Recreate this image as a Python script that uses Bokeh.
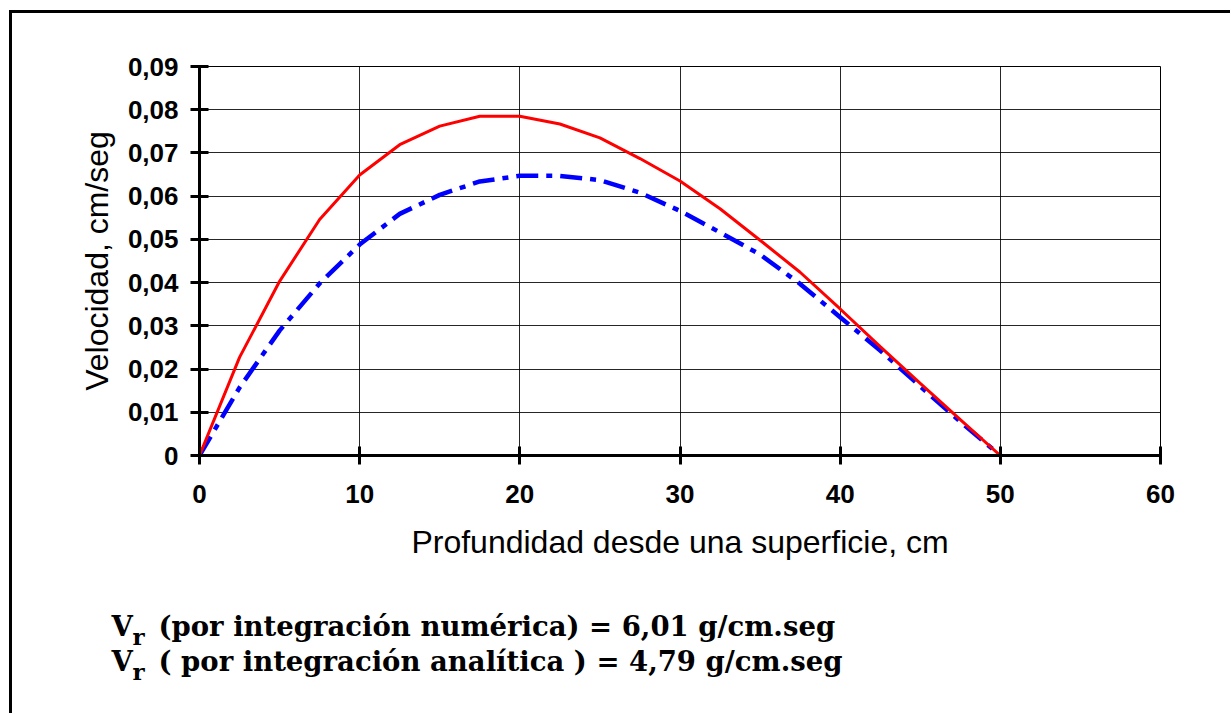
from bokeh.plotting import figure
from bokeh.layouts import column
from bokeh.models import Range1d, FixedTicker
from bokeh.core.properties import value
from bokeh.embed import file_html
from bokeh.resources import INLINE

# ---- data ----
depth = [0, 2.5, 5, 7.5, 10, 12.5, 15, 17.5, 20, 22.5, 25, 27.5, 30, 32.5,
         35, 37.5, 40, 42.5, 45, 47.5, 50]
vel_numerica = [0, 0.0227, 0.0403, 0.0546, 0.0649, 0.0719, 0.0762, 0.0785,
                0.0785, 0.0767, 0.0735, 0.0687, 0.0635, 0.0571, 0.0498,
                0.0424, 0.0339, 0.0252, 0.0167, 0.0083, 0]
vel_analitica = [0, 0.0157, 0.0289, 0.0398, 0.0488, 0.0559, 0.0603, 0.0634,
                 0.0647, 0.0647, 0.0637, 0.0608, 0.0566, 0.0516, 0.0465,
                 0.0397, 0.0320, 0.0243, 0.0160, 0.0078, 0]

x_ticks = [0, 10, 20, 30, 40, 50, 60]
x_tick_labels = ["0", "10", "20", "30", "40", "50", "60"]
y_ticks = [0, 0.01, 0.02, 0.03, 0.04, 0.05, 0.06, 0.07, 0.08, 0.09]
y_tick_labels = ["0", "0,01", "0,02", "0,03", "0,04", "0,05", "0,06",
                 "0,07", "0,08", "0,09"]

x_title = "Profundidad desde una superficie, cm"
y_title = "Velocidad, cm/seg"
note_main = ["V", "V"]
note_sub = ["r", "r"]
note_rest = ["(por integración numérica) = 6,01 g/cm.seg",
             "( por integración analítica ) = 4,79 g/cm.seg"]

SANS = "Liberation Sans"
SERIF = "DejaVu Serif"

W, H, H2 = 1218, 580, 120
p = figure(width=W, height=H, output_backend="svg", toolbar_location=None,
           x_range=Range1d(0, 60), y_range=Range1d(0, 0.09),
           min_border_left=187, min_border_right=70,
           min_border_top=53, min_border_bottom=H - 53 - 389)
p.frame_align = False

p.background_fill_color = "white"
p.border_fill_color = "white"
p.outline_line_color = "black"
p.outline_line_width = 1

for ax, ticks, labels in ((p.xaxis[0], x_ticks, x_tick_labels),
                          (p.yaxis[0], y_ticks, y_tick_labels)):
    ax.ticker = FixedTicker(ticks=ticks)
    ax.major_label_overrides = {t: l for t, l in zip(ticks, labels)}
    ax.minor_tick_line_color = None
    ax.major_tick_in = 9
    ax.major_tick_out = 9
    ax.major_tick_line_width = 3
    ax.major_tick_line_color = "black"
    ax.axis_line_width = 3
    ax.axis_line_color = "black"
    ax.major_label_text_font = SANS
    ax.major_label_text_font_style = "bold"
    ax.major_label_text_font_size = "26px"
    ax.major_label_text_color = "black"
    ax.axis_label_text_font = SANS
    ax.axis_label_text_font_style = "normal"
    ax.axis_label_text_font_size = "32px"
    ax.axis_label_text_color = "black"

p.xaxis.axis_label = x_title
p.yaxis.axis_label = y_title
p.xaxis.major_label_standoff = 20
p.xaxis.axis_label_standoff = 18
p.yaxis.major_label_standoff = 12
p.yaxis.axis_label_standoff = 10

p.xgrid.ticker = FixedTicker(ticks=x_ticks)
p.ygrid.ticker = FixedTicker(ticks=y_ticks)
for g in (p.xgrid[0], p.ygrid[0]):
    g.grid_line_color = "black"
    g.grid_line_width = 1
    g.grid_line_alpha = 0.85

p.line(depth, vel_analitica, line_color="#0000FF", line_width=4.5,
       line_dash="22 8 6 8")
p.line(depth, vel_numerica, line_color="#FF0000", line_width=3)

# ---- notes panel below the chart (pixel coordinates, y from top) ----
q = figure(width=W, height=H2, output_backend="svg", toolbar_location=None,
           x_range=Range1d(0, W), y_range=Range1d(H2, 0),
           min_border=0, x_axis_type=None, y_axis_type=None)
q.frame_align = False
q.grid.visible = False
q.outline_line_color = None
q.background_fill_color = "white"
q.border_fill_color = "white"

line_base = [32, 67]
q.text(x=[99, 99], y=line_base, text=note_main, text_font=value(SERIF),
       text_font_style="bold", text_font_size="27.5px", text_color="black",
       text_baseline="alphabetic")
q.text(x=[120, 120], y=[b + 11 for b in line_base], text=note_sub,
       text_font=value(SERIF), text_font_style="bold", text_font_size="23px",
       text_color="black", text_baseline="alphabetic")
q.text(x=[146, 146], y=line_base, text=note_rest, text_font=value(SERIF),
       text_font_style="bold", text_font_size="27.5px", text_color="black",
       text_baseline="alphabetic")

layout = column(p, q, spacing=0)
layout.styles = {"border-top": "3px solid black", "border-left": "3px solid black",
                 "margin-left": "9px", "margin-top": "10px"}

open("out.html", "w").write(file_html(layout, INLINE))
